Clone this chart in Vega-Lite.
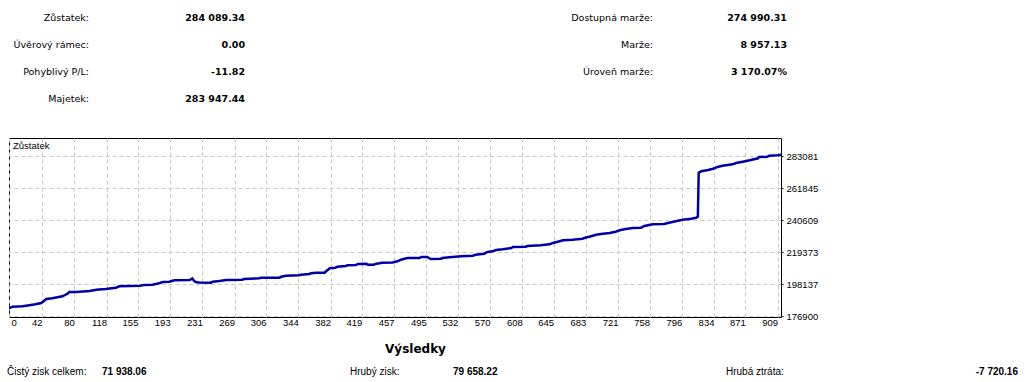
{
  "$schema": "https://vega.github.io/schema/vega-lite/v6.json",
  "background": "white",
  "padding": 0,
  "spacing": 0,
  "config": {"view": {"stroke": null}, "text": {"color": "black"}, "axis": {"labelOverlap": false, "labelFlush": false}},
  "datasets": {
    "top": [
      {"row": 1, "col": 0, "text": "Zůstatek:", "kind": "label"},
      {"row": 1, "col": 1, "text": "284 089.34", "kind": "value"},
      {"row": 2, "col": 0, "text": "Úvěrový rámec:", "kind": "label"},
      {"row": 2, "col": 1, "text": "0.00", "kind": "value"},
      {"row": 3, "col": 0, "text": "Pohyblivý P/L:", "kind": "label"},
      {"row": 3, "col": 1, "text": "-11.82", "kind": "value"},
      {"row": 4, "col": 0, "text": "Majetek:", "kind": "label"},
      {"row": 4, "col": 1, "text": "283 947.44", "kind": "value"},
      {"row": 1, "col": 2, "text": "Dostupná marže:", "kind": "label"},
      {"row": 1, "col": 3, "text": "274 990.31", "kind": "value"},
      {"row": 2, "col": 2, "text": "Marže:", "kind": "label"},
      {"row": 2, "col": 3, "text": "8 957.13", "kind": "value"},
      {"row": 3, "col": 2, "text": "Úroveň marže:", "kind": "label"},
      {"row": 3, "col": 3, "text": "3 170.07%", "kind": "value"}
    ],
    "bottom": [
      {"col": 0, "text": "Čistý zisk celkem:", "kind": "label"},
      {"col": 1, "text": "71 938.06", "kind": "value"},
      {"col": 2, "text": "Hrubý zisk:", "kind": "label"},
      {"col": 3, "text": "79 658.22", "kind": "value"},
      {"col": 4, "text": "Hrubá ztráta:", "kind": "label"},
      {"col": 5, "text": "-7 720.16", "kind": "total"}
    ],
    "balance": [
      {"trade": 3, "balance": 182151}, {"trade": 7, "balance": 183271}, {"trade": 19, "balance": 183536},
      {"trade": 27, "balance": 184200}, {"trade": 34, "balance": 184863}, {"trade": 41, "balance": 185726},
      {"trade": 43, "balance": 186589}, {"trade": 47, "balance": 188380}, {"trade": 54, "balance": 188845},
      {"trade": 60, "balance": 189508}, {"trade": 66, "balance": 190172}, {"trade": 69, "balance": 191035},
      {"trade": 72, "balance": 191897}, {"trade": 74, "balance": 193025}, {"trade": 82, "balance": 193025},
      {"trade": 98, "balance": 193689}, {"trade": 106, "balance": 194552}, {"trade": 117, "balance": 195016},
      {"trade": 129, "balance": 195879}, {"trade": 133, "balance": 196808}, {"trade": 157, "balance": 197206},
      {"trade": 162, "balance": 197671}, {"trade": 172, "balance": 197870}, {"trade": 180, "balance": 198799},
      {"trade": 184, "balance": 199661}, {"trade": 192, "balance": 199861}, {"trade": 198, "balance": 200790},
      {"trade": 216, "balance": 200989}, {"trade": 219, "balance": 201984}, {"trade": 221, "balance": 200524},
      {"trade": 223, "balance": 199661}, {"trade": 227, "balance": 199330}, {"trade": 241, "balance": 199197},
      {"trade": 243, "balance": 199861}, {"trade": 251, "balance": 200325}, {"trade": 259, "balance": 200989},
      {"trade": 278, "balance": 201188}, {"trade": 280, "balance": 201652}, {"trade": 298, "balance": 202117},
      {"trade": 300, "balance": 202515}, {"trade": 322, "balance": 202515}, {"trade": 324, "balance": 203179},
      {"trade": 329, "balance": 203842}, {"trade": 345, "balance": 204108}, {"trade": 347, "balance": 204506},
      {"trade": 357, "balance": 204970}, {"trade": 359, "balance": 205435}, {"trade": 365, "balance": 205833},
      {"trade": 375, "balance": 205833}, {"trade": 377, "balance": 206961}, {"trade": 379, "balance": 207824},
      {"trade": 381, "balance": 208753}, {"trade": 388, "balance": 209151}, {"trade": 390, "balance": 209815},
      {"trade": 400, "balance": 210279}, {"trade": 402, "balance": 210744}, {"trade": 412, "balance": 210943},
      {"trade": 414, "balance": 211606}, {"trade": 424, "balance": 211805}, {"trade": 426, "balance": 211142},
      {"trade": 433, "balance": 211142}, {"trade": 436, "balance": 211805}, {"trade": 440, "balance": 212071},
      {"trade": 442, "balance": 212469}, {"trade": 455, "balance": 212602}, {"trade": 461, "balance": 213398},
      {"trade": 465, "balance": 214460}, {"trade": 469, "balance": 215123}, {"trade": 473, "balance": 215588},
      {"trade": 487, "balance": 215588}, {"trade": 489, "balance": 216251}, {"trade": 496, "balance": 216251},
      {"trade": 498, "balance": 215588}, {"trade": 500, "balance": 214924}, {"trade": 512, "balance": 215123},
      {"trade": 514, "balance": 215588}, {"trade": 522, "balance": 216052}, {"trade": 536, "balance": 216716},
      {"trade": 550, "balance": 217114}, {"trade": 553, "balance": 217778}, {"trade": 563, "balance": 218441},
      {"trade": 567, "balance": 219569}, {"trade": 573, "balance": 220034}, {"trade": 577, "balance": 220897},
      {"trade": 585, "balance": 221361}, {"trade": 595, "balance": 222224}, {"trade": 597, "balance": 222887},
      {"trade": 612, "balance": 223087}, {"trade": 614, "balance": 223551}, {"trade": 630, "balance": 224016},
      {"trade": 632, "balance": 224215}, {"trade": 640, "balance": 224679}, {"trade": 644, "balance": 225542},
      {"trade": 650, "balance": 226405}, {"trade": 656, "balance": 227334}, {"trade": 667, "balance": 227732},
      {"trade": 679, "balance": 228395}, {"trade": 683, "balance": 229192}, {"trade": 687, "balance": 229723},
      {"trade": 695, "balance": 231050}, {"trade": 703, "balance": 231713}, {"trade": 711, "balance": 232178},
      {"trade": 718, "balance": 233041}, {"trade": 724, "balance": 234169}, {"trade": 730, "balance": 234832},
      {"trade": 738, "balance": 235496}, {"trade": 748, "balance": 235695}, {"trade": 752, "balance": 236823},
      {"trade": 762, "balance": 237951}, {"trade": 775, "balance": 238150}, {"trade": 781, "balance": 239013},
      {"trade": 789, "balance": 239942}, {"trade": 797, "balance": 241004}, {"trade": 807, "balance": 241667},
      {"trade": 813, "balance": 242331}, {"trade": 815, "balance": 243127}, {"trade": 816, "balance": 272193},
      {"trade": 819, "balance": 273122}, {"trade": 827, "balance": 273985}, {"trade": 833, "balance": 274847},
      {"trade": 838, "balance": 275975}, {"trade": 844, "balance": 276838}, {"trade": 856, "balance": 277767},
      {"trade": 860, "balance": 278630}, {"trade": 868, "balance": 279493}, {"trade": 876, "balance": 280422},
      {"trade": 886, "balance": 281749}, {"trade": 887, "balance": 282611}, {"trade": 897, "balance": 282811},
      {"trade": 899, "balance": 283474}, {"trade": 909, "balance": 283740}, {"trade": 913, "balance": 284089}
    ]
  },
  "vconcat": [
    {
      "width": 1000,
      "height": 137,
      "data": {"name": "top"},
      "encoding": {
        "x": {"field": "col", "type": "quantitative", "scale": {"domain": [0, 1, 2, 3], "range": [80, 236, 644, 778], "nice": false, "zero": false}, "axis": null},
        "y": {"field": "row", "type": "quantitative", "scale": {"domain": [1, 4], "range": [18, 99], "nice": false, "zero": false}, "axis": null},
        "text": {"field": "text"}
      },
      "layer": [
        {"transform": [{"filter": "datum.kind === 'label'"}], "mark": {"type": "text", "align": "right", "baseline": "middle", "font": "DejaVu Sans", "fontSize": 9.5}},
        {"transform": [{"filter": "datum.kind === 'value'"}], "mark": {"type": "text", "align": "right", "baseline": "middle", "font": "DejaVu Sans", "fontSize": 9.5, "fontWeight": "bold"}}
      ]
    },
    {
      "width": 772,
      "height": 179,
      "view": {"stroke": "black", "strokeWidth": 1},
      "resolve": {"axis": {"y": "independent"}},
      "layer": [
        {
          "data": {"name": "balance"},
          "mark": {"type": "line", "color": "#0000aa", "strokeWidth": 2.5, "clip": true},
          "encoding": {
            "x": {"field": "trade", "type": "quantitative",
              "scale": {"domain": [3, 913], "nice": false, "zero": false},
              "axis": {"values": [3, 42, 80, 118, 155, 193, 231, 269, 306, 344, 382, 419, 457, 495, 532, 570, 608, 645, 683, 721, 758, 796, 834, 871, 909],
                "tickCount": 25,
                "format": "d", "labelExpr": "datum.value < 10 ? '0' : datum.label",
                "ticks": false, "domain": false, "grid": true, "gridColor": "#c8c8c8", "gridDash": [4, 3],
                "labelFont": "Liberation Sans", "labelFontSize": 9.5, "labelColor": "black", "labelPadding": 0,
                "labelAlign": {"condition": {"test": "datum.value < 10", "value": "left"}, "value": "right"},
                "labelOffset": {"condition": {"test": "datum.value < 10", "value": 2}, "value": 0},
                "labelBaseline": "top", "labelFlush": false, "labelOverlap": false,
                "title": "Výsledky", "titleFont": "DejaVu Sans", "titleFontSize": 12, "titleFontWeight": "bold", "titleColor": "black",
                "titleX": 406, "titleY": 31, "titleAlign": "center", "titleBaseline": "middle"}},
            "y": {"field": "balance", "type": "quantitative",
              "scale": {"domain": [176435, 295221], "nice": false, "zero": false},
              "axis": {"orient": "right", "values": [176900, 198137, 219373, 240609, 261845, 283081], "format": "d",
                "tickSize": 2, "tickColor": "black", "domain": false, "grid": true, "gridColor": "#c8c8c8", "gridDash": [4, 3],
                "labelFont": "Liberation Sans", "labelFontSize": 9.5, "labelColor": "black", "labelPadding": 3,
                "labelFlush": false, "labelOverlap": false, "title": null}}
          }
        },
        {
          "data": {"values": [{"label": "Zůstatek"}]},
          "mark": {"type": "text", "align": "left", "baseline": "top", "dx": 4, "dy": 3, "font": "Liberation Sans", "fontSize": 9.5},
          "encoding": {
            "x": {"datum": 3, "type": "quantitative"},
            "y": {"datum": 295221, "type": "quantitative",
              "scale": {"domain": [176435, 295221], "nice": false, "zero": false},
              "axis": {"orient": "left", "labels": false, "ticks": false, "domain": false, "grid": false, "title": null, "minExtent": 8, "maxExtent": 8}},
            "text": {"field": "label"}
          }
        }
      ]
    },
    {
      "width": 1000,
      "height": 20,
      "data": {"name": "bottom"},
      "encoding": {
        "x": {"field": "col", "type": "quantitative", "scale": {"domain": [0, 1, 2, 3, 4, 5], "range": [-2, 93, 341, 444, 717, 1009], "nice": false, "zero": false}, "axis": null},
        "text": {"field": "text"}
      },
      "layer": [
        {"transform": [{"filter": "datum.kind === 'label'"}], "mark": {"type": "text", "align": "left", "baseline": "middle", "dy": 7, "font": "Liberation Sans", "fontSize": 10}},
        {"transform": [{"filter": "datum.kind === 'value'"}], "mark": {"type": "text", "align": "left", "baseline": "middle", "dy": 7, "font": "Liberation Sans", "fontSize": 10, "fontWeight": "bold"}},
        {"transform": [{"filter": "datum.kind === 'total'"}], "mark": {"type": "text", "align": "right", "baseline": "middle", "dy": 7, "font": "Liberation Sans", "fontSize": 10, "fontWeight": "bold"}}
      ]
    }
  ]
}
